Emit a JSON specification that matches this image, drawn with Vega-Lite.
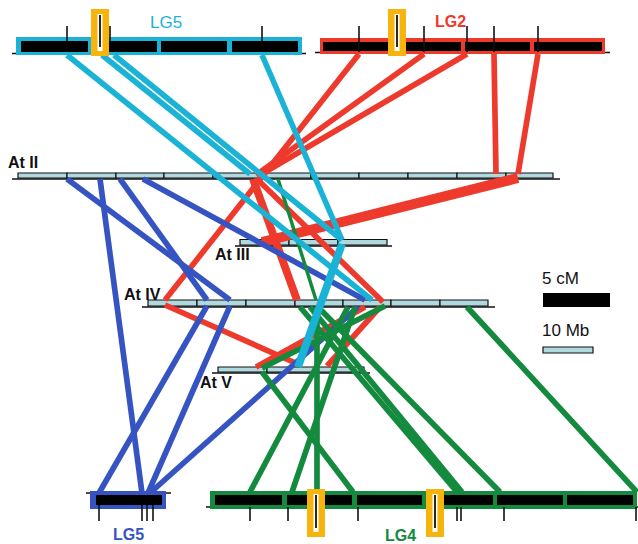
{
  "$schema": "https://vega.github.io/schema/vega-lite/v6.json",
  "width": 638,
  "height": 544,
  "autosize": {"type": "none"},
  "padding": 0,
  "background": "white",
  "config": {"view": {"stroke": null}},
  "datasets": {
    "chrom": [
      {"chr": "At II", "x": 18, "x2": 67, "y": 173, "y2": 178},
      {"chr": "At II", "x": 67, "x2": 116, "y": 173, "y2": 178},
      {"chr": "At II", "x": 116, "x2": 164, "y": 173, "y2": 178},
      {"chr": "At II", "x": 164, "x2": 213, "y": 173, "y2": 178},
      {"chr": "At II", "x": 213, "x2": 262, "y": 173, "y2": 178},
      {"chr": "At II", "x": 262, "x2": 311, "y": 173, "y2": 178},
      {"chr": "At II", "x": 311, "x2": 359, "y": 173, "y2": 178},
      {"chr": "At II", "x": 359, "x2": 408, "y": 173, "y2": 178},
      {"chr": "At II", "x": 408, "x2": 457, "y": 173, "y2": 178},
      {"chr": "At II", "x": 457, "x2": 506, "y": 173, "y2": 178},
      {"chr": "At II", "x": 506, "x2": 553, "y": 173, "y2": 178},
      {"chr": "At III", "x": 240, "x2": 289, "y": 239.5, "y2": 245},
      {"chr": "At III", "x": 289, "x2": 338, "y": 239.5, "y2": 245},
      {"chr": "At III", "x": 338, "x2": 387, "y": 239.5, "y2": 245},
      {"chr": "At IV", "x": 148, "x2": 197, "y": 300, "y2": 306},
      {"chr": "At IV", "x": 197, "x2": 246, "y": 300, "y2": 306},
      {"chr": "At IV", "x": 246, "x2": 295, "y": 300, "y2": 306},
      {"chr": "At IV", "x": 295, "x2": 343, "y": 300, "y2": 306},
      {"chr": "At IV", "x": 343, "x2": 391, "y": 300, "y2": 306},
      {"chr": "At IV", "x": 391, "x2": 440, "y": 300, "y2": 306},
      {"chr": "At IV", "x": 440, "x2": 488, "y": 300, "y2": 306},
      {"chr": "At V", "x": 218, "x2": 267, "y": 367, "y2": 372},
      {"chr": "At V", "x": 267, "x2": 316, "y": 367, "y2": 372},
      {"chr": "At V", "x": 316, "x2": 364, "y": 367, "y2": 372},
      {"chr": "10 Mb", "x": 543, "x2": 593, "y": 347, "y2": 353}
    ],
    "base": [
      {"x": 12, "x2": 560, "y": 179},
      {"x": 235, "x2": 392, "y": 246},
      {"x": 142, "x2": 495, "y": 307},
      {"x": 212, "x2": 370, "y": 373},
      {"x": 12, "x2": 306, "y": 53.5},
      {"x": 315, "x2": 610, "y": 52.5},
      {"x": 86, "x2": 171, "y": 493},
      {"x": 206, "x2": 638, "y": 507}
    ],
    "lgbars": [
      {"lg": "LG5 top", "x": 16, "x2": 302, "y": 37, "y2": 55},
      {"lg": "LG2", "x": 320, "x2": 605, "y": 38, "y2": 54},
      {"lg": "LG5 bottom", "x": 90, "x2": 166, "y": 491, "y2": 509},
      {"lg": "LG4", "x": 210, "x2": 637, "y": 491, "y2": 509}
    ],
    "blocks": [
      {"x": 21, "x2": 88, "y": 41, "y2": 52},
      {"x": 92, "x2": 157, "y": 41, "y2": 52},
      {"x": 161, "x2": 227, "y": 41, "y2": 52},
      {"x": 232, "x2": 298, "y": 41, "y2": 52},
      {"x": 323, "x2": 461, "y": 42, "y2": 51},
      {"x": 465, "x2": 530, "y": 42, "y2": 51},
      {"x": 534, "x2": 602, "y": 42, "y2": 51},
      {"x": 96, "x2": 162, "y": 495, "y2": 505},
      {"x": 215, "x2": 282, "y": 495, "y2": 505},
      {"x": 287, "x2": 352, "y": 495, "y2": 505},
      {"x": 357, "x2": 422, "y": 495, "y2": 505},
      {"x": 426, "x2": 493, "y": 495, "y2": 505},
      {"x": 497, "x2": 563, "y": 495, "y2": 505},
      {"x": 567, "x2": 633, "y": 495, "y2": 505},
      {"x": 543, "x2": 610, "y": 293, "y2": 307}
    ],
    "ticks": [
      {"x": 67, "y": 26, "y2": 41},
      {"x": 110, "y": 26, "y2": 41},
      {"x": 262, "y": 26, "y2": 41},
      {"x": 359, "y": 26, "y2": 52},
      {"x": 424, "y": 26, "y2": 52},
      {"x": 467, "y": 26, "y2": 52},
      {"x": 494, "y": 26, "y2": 52},
      {"x": 538, "y": 26, "y2": 52},
      {"x": 99, "y": 505, "y2": 521},
      {"x": 142, "y": 505, "y2": 521},
      {"x": 147, "y": 505, "y2": 521},
      {"x": 153, "y": 505, "y2": 521},
      {"x": 250, "y": 507, "y2": 521},
      {"x": 288, "y": 507, "y2": 521},
      {"x": 358, "y": 507, "y2": 521},
      {"x": 457, "y": 507, "y2": 521},
      {"x": 461, "y": 507, "y2": 521},
      {"x": 504, "y": 507, "y2": 521},
      {"x": 636, "y": 507, "y2": 521}
    ],
    "links": [
      {"lg": "LG2", "x": 359, "y": 54, "x2": 165, "y2": 300, "w": 2},
      {"lg": "LG2", "x": 424, "y": 54, "x2": 256, "y2": 175, "w": 2},
      {"lg": "LG2", "x": 467, "y": 54, "x2": 260, "y2": 175, "w": 2},
      {"lg": "LG2", "x": 494, "y": 54, "x2": 496, "y2": 174, "w": 2},
      {"lg": "LG2", "x": 538, "y": 54, "x2": 518, "y2": 174, "w": 2},
      {"lg": "LG2", "x": 518, "y": 178, "x2": 262, "y2": 242, "w": 4},
      {"lg": "LG2", "x": 253, "y": 179, "x2": 297, "y2": 300, "w": 3},
      {"lg": "LG2", "x": 257, "y": 179, "x2": 383, "y2": 302, "w": 2},
      {"lg": "LG2", "x": 165, "y": 305, "x2": 300, "y2": 365, "w": 2},
      {"lg": "LG2", "x": 380, "y": 307, "x2": 327, "y2": 366, "w": 2},
      {"lg": "LG2", "x": 256, "y": 367, "x2": 365, "y2": 307, "w": 2},
      {"lg": "LG5 bottom", "x": 67, "y": 179, "x2": 230, "y2": 300, "w": 2},
      {"lg": "LG5 bottom", "x": 100, "y": 179, "x2": 142, "y2": 493, "w": 2},
      {"lg": "LG5 bottom", "x": 120, "y": 179, "x2": 207, "y2": 300, "w": 2},
      {"lg": "LG5 bottom", "x": 143, "y": 179, "x2": 365, "y2": 300, "w": 2},
      {"lg": "LG5 bottom", "x": 230, "y": 306, "x2": 148, "y2": 493, "w": 2},
      {"lg": "LG5 bottom", "x": 207, "y": 306, "x2": 99, "y2": 493, "w": 2},
      {"lg": "LG5 bottom", "x": 358, "y": 307, "x2": 150, "y2": 493, "w": 2},
      {"lg": "LG4", "x": 278, "y": 179, "x2": 316, "y2": 300, "w": 1},
      {"lg": "LG4", "x": 317, "y": 307, "x2": 317, "y2": 492, "w": 2},
      {"lg": "LG4", "x": 262, "y": 372, "x2": 353, "y2": 492, "w": 2},
      {"lg": "LG4", "x": 262, "y": 368, "x2": 385, "y2": 306, "w": 2},
      {"lg": "LG4", "x": 300, "y": 307, "x2": 457, "y2": 492, "w": 2},
      {"lg": "LG4", "x": 310, "y": 307, "x2": 462, "y2": 492, "w": 2},
      {"lg": "LG4", "x": 318, "y": 307, "x2": 500, "y2": 492, "w": 2},
      {"lg": "LG4", "x": 348, "y": 307, "x2": 250, "y2": 492, "w": 2},
      {"lg": "LG4", "x": 355, "y": 307, "x2": 292, "y2": 492, "w": 2},
      {"lg": "LG4", "x": 467, "y": 307, "x2": 637, "y2": 492, "w": 2},
      {"lg": "LG5 top", "x": 67, "y": 55, "x2": 372, "y2": 300, "w": 2},
      {"lg": "LG5 top", "x": 102, "y": 55, "x2": 250, "y2": 174, "w": 2},
      {"lg": "LG5 top", "x": 114, "y": 55, "x2": 342, "y2": 240, "w": 2},
      {"lg": "LG5 top", "x": 262, "y": 55, "x2": 342, "y2": 240, "w": 2},
      {"lg": "LG5 top", "x": 342, "y": 244, "x2": 298, "y2": 367, "w": 3}
    ],
    "boxes": [
      {"x": 91, "x2": 109, "y": 9, "y2": 56, "c": 100, "wy": 14, "wy2": 51, "ty": 15, "ty2": 47},
      {"x": 388, "x2": 406, "y": 9, "y2": 56, "c": 397, "wy": 14, "wy2": 51, "ty": 15, "ty2": 47},
      {"x": 307, "x2": 325, "y": 489, "y2": 537, "c": 316, "wy": 494, "wy2": 532, "ty": 495, "ty2": 528},
      {"x": 426, "x2": 444, "y": 489, "y2": 537, "c": 435, "wy": 494, "wy2": 532, "ty": 495, "ty2": 528}
    ],
    "labels": [
      {"text": "At II", "x": 8, "y": 163, "lg": "At"},
      {"text": "At III", "x": 215, "y": 255, "lg": "At"},
      {"text": "At IV", "x": 124, "y": 295, "lg": "At"},
      {"text": "At V", "x": 200, "y": 383, "lg": "At"},
      {"text": "LG2", "x": 435, "y": 22, "lg": "LG2"},
      {"text": "LG5", "x": 113, "y": 535, "lg": "LG5 bottom"},
      {"text": "LG4", "x": 385, "y": 536, "lg": "LG4"}
    ],
    "plain": [
      {"text": "LG5", "x": 150, "y": 23, "lg": "LG5 top"},
      {"text": "5 cM", "x": 542, "y": 279, "lg": "At"},
      {"text": "10 Mb", "x": 542, "y": 331, "lg": "At"}
    ]
  },
  "layer": [
    {
      "data": {"name": "chrom"},
      "mark": {"type": "rect", "fill": "#b0d8df", "stroke": "#111111", "strokeWidth": 1.2},
      "encoding": {
        "x": {"field": "x", "type": "quantitative", "scale": {"domain": [0, 638], "nice": false, "zero": false}, "axis": null},
        "x2": {"field": "x2"},
        "y": {"field": "y", "type": "quantitative", "scale": {"domain": [0, 544], "nice": false, "zero": false, "reverse": true}, "axis": null},
        "y2": {"field": "y2"}
      }
    },
    {
      "data": {"name": "base"},
      "mark": {"type": "rule", "color": "#111111", "strokeWidth": 1.5},
      "encoding": {
        "x": {"field": "x", "type": "quantitative"},
        "x2": {"field": "x2"},
        "y": {"field": "y", "type": "quantitative"}
      }
    },
    {
      "data": {"name": "lgbars"},
      "mark": {"type": "rect"},
      "encoding": {
        "x": {"field": "x", "type": "quantitative"},
        "x2": {"field": "x2"},
        "y": {"field": "y", "type": "quantitative"},
        "y2": {"field": "y2"},
        "color": {"field": "lg", "type": "nominal", "legend": null,
          "scale": {"domain": ["LG5 top", "LG2", "LG5 bottom", "LG4", "At"], "range": ["#1ab3d5", "#ee3a2c", "#3554c2", "#148a3e", "#111111"]}}
      }
    },
    {
      "data": {"name": "blocks"},
      "mark": {"type": "rect", "fill": "#000000"},
      "encoding": {
        "x": {"field": "x", "type": "quantitative"},
        "x2": {"field": "x2"},
        "y": {"field": "y", "type": "quantitative"},
        "y2": {"field": "y2"}
      }
    },
    {
      "data": {"name": "ticks"},
      "mark": {"type": "rule", "color": "#111111", "strokeWidth": 1.6},
      "encoding": {
        "x": {"field": "x", "type": "quantitative"},
        "y": {"field": "y", "type": "quantitative"},
        "y2": {"field": "y2"}
      }
    },
    {
      "data": {"name": "links"},
      "mark": {"type": "rule", "strokeCap": "butt"},
      "encoding": {
        "x": {"field": "x", "type": "quantitative"},
        "y": {"field": "y", "type": "quantitative"},
        "x2": {"field": "x2"},
        "y2": {"field": "y2"},
        "color": {"field": "lg", "type": "nominal", "legend": null},
        "strokeWidth": {"field": "w", "type": "quantitative", "legend": null,
          "scale": {"type": "linear", "domain": [1, 4], "range": [3.5, 10], "zero": false}}
      }
    },
    {
      "data": {"name": "boxes"},
      "mark": {"type": "rect", "fill": "#f6b40c"},
      "encoding": {
        "x": {"field": "x", "type": "quantitative"},
        "x2": {"field": "x2"},
        "y": {"field": "y", "type": "quantitative"},
        "y2": {"field": "y2"}
      }
    },
    {
      "data": {"name": "boxes"},
      "mark": {"type": "rule", "color": "white", "strokeWidth": 5},
      "encoding": {
        "x": {"field": "c", "type": "quantitative"},
        "y": {"field": "wy", "type": "quantitative"},
        "y2": {"field": "wy2"}
      }
    },
    {
      "data": {"name": "boxes"},
      "mark": {"type": "rule", "color": "#111111", "strokeWidth": 1.8},
      "encoding": {
        "x": {"field": "c", "type": "quantitative"},
        "y": {"field": "ty", "type": "quantitative"},
        "y2": {"field": "ty2"}
      }
    },
    {
      "data": {"name": "labels"},
      "mark": {"type": "text", "align": "left", "baseline": "middle", "font": "Liberation Sans", "fontSize": 16, "fontWeight": "bold"},
      "encoding": {
        "x": {"field": "x", "type": "quantitative"},
        "y": {"field": "y", "type": "quantitative"},
        "text": {"field": "text"},
        "color": {"field": "lg", "type": "nominal", "legend": null}
      }
    },
    {
      "data": {"name": "plain"},
      "mark": {"type": "text", "align": "left", "baseline": "middle", "font": "Liberation Sans", "fontSize": 17},
      "encoding": {
        "x": {"field": "x", "type": "quantitative"},
        "y": {"field": "y", "type": "quantitative"},
        "text": {"field": "text"},
        "color": {"field": "lg", "type": "nominal", "legend": null}
      }
    }
  ]
}
